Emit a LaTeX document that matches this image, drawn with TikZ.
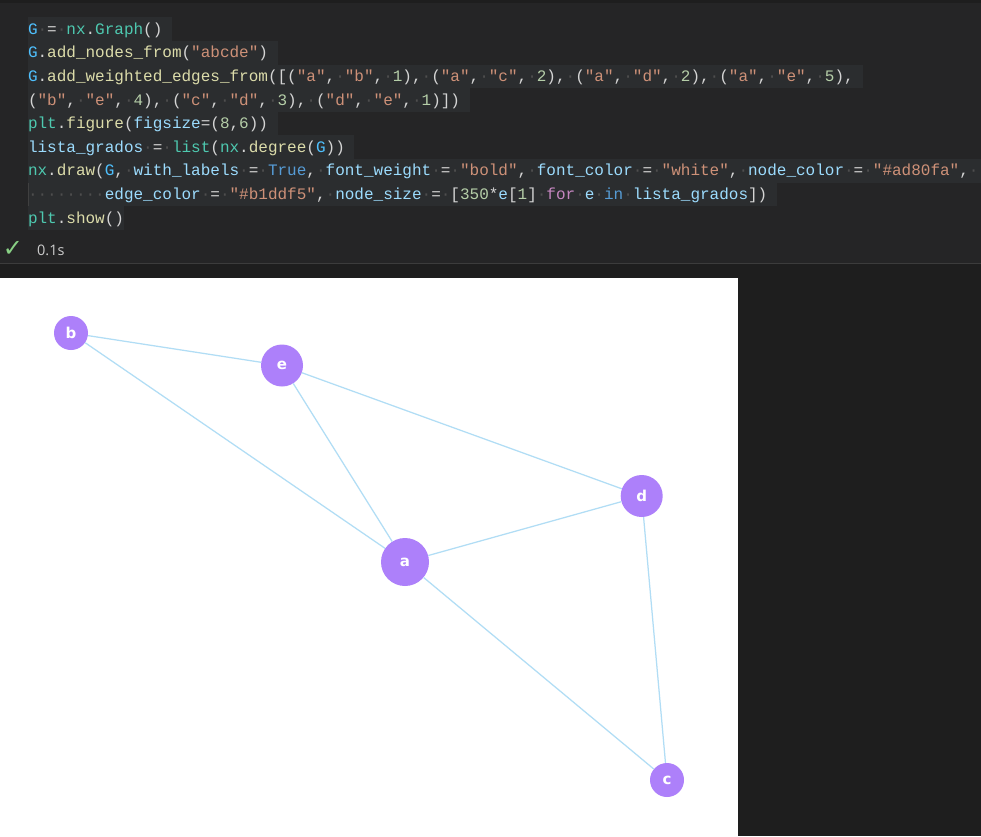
\documentclass[tikz,border=0pt]{standalone}
\usepackage{fontspec}
\newfontfamily\codefont{Liberation Mono}
\newfontfamily\labfont{DejaVu Sans}
\newfontfamily\uifont{Open Sans}
\newfontfamily\symfont{DejaVu Sans}
\definecolor{editorbg}{HTML}{1E1E1E}
\definecolor{cellbg}{HTML}{252526}
\definecolor{hlbox}{HTML}{2B2D2F}
\definecolor{sepline}{HTML}{3C3C3C}
\definecolor{cgconst}{HTML}{4FC1FF}
\definecolor{cteal}{HTML}{4EC9B0}
\definecolor{cyell}{HTML}{DCDCAA}
\definecolor{cvar}{HTML}{9CDCFE}
\definecolor{cstr}{HTML}{CE9178}
\definecolor{cnum}{HTML}{B5CEA8}
\definecolor{ckw}{HTML}{569CD6}
\definecolor{cctrl}{HTML}{C586C0}
\definecolor{cpunc}{HTML}{D4D4D4}
\definecolor{cdot}{HTML}{4E4E4E}
\definecolor{cguide}{HTML}{404040}
\definecolor{nodecol}{HTML}{AD80FA}
\definecolor{edgecol}{HTML}{B1DDF5}
\definecolor{okgreen}{HTML}{89D185}
\definecolor{uitext}{HTML}{CCCCCC}
\newcommand\cA[1]{\textcolor{cgconst}{#1}}
\newcommand\cT[1]{\textcolor{cteal}{#1}}
\newcommand\cY[1]{\textcolor{cyell}{#1}}
\newcommand\cV[1]{\textcolor{cvar}{#1}}
\newcommand\cS[1]{\textcolor{cstr}{#1}}
\newcommand\cN[1]{\textcolor{cnum}{#1}}
\newcommand\cK[1]{\textcolor{ckw}{#1}}
\newcommand\cC[1]{\textcolor{cctrl}{#1}}
\newcommand\sd{\textcolor{cdot}{·}}
\tikzset{
  codeline/.style={anchor=base west, inner sep=0pt, outer sep=0pt, text=cpunc,
    font=\codefont\fontsize{16}{16}\selectfont},
  vx/.style={circle, fill=nodecol, inner sep=0pt, text=white,
    font=\labfont\bfseries\fontsize{15}{15}\selectfont},
  gedge/.style={draw=edgecol, line width=1.25pt},
}
\begin{document}
\begin{tikzpicture}[x=1pt,y=-1pt]
\useasboundingbox (0,0) rectangle (981,836);
% backgrounds
\fill[editorbg] (0,0) rectangle (981,836);
\fill[cellbg] (0,3) rectangle (981,263);
\draw[sepline, line width=1.2pt] (0,263.5) -- (981,263.5);
\fill[white] (0,278.3) rectangle (738,836);
% line highlight boxes
\fill[hlbox] (28,17.3) rectangle (172,40.9);
\fill[hlbox] (28,40.9) rectangle (277.6,64.5);
\fill[hlbox] (28,64.5) rectangle (863.2,88.1);
\fill[hlbox] (28,88.1) rectangle (469.6,111.7);
\fill[hlbox] (28,111.7) rectangle (277.6,135.3);
\fill[hlbox] (28,135.3) rectangle (354.4,158.9);
\fill[hlbox] (28,158.9) rectangle (981,182.5);
\fill[hlbox] (28,182.5) rectangle (776.8,206.1);
\fill[hlbox] (28,206.1) rectangle (124,229.7);
\draw[cguide, line width=0.8pt] (28.5,182.5) -- (28.5,206.1);
% code
\node[codeline] (l1) at (28,34.3) {\cA{G}\sd=\sd\cT{nx}.\cT{Graph}()};
\node[codeline] (l2) at (28,57.9) {\cA{G}.\cY{add\_nodes\_from}(\cS{"abcde"})};
\node[codeline] (l3) at (28,81.5) {\cA{G}.\cY{add\_weighted\_edges\_from}([(\cS{"a"},\sd\cS{"b"},\sd\cN{1}),\sd(\cS{"a"},\sd\cS{"c"},\sd\cN{2}),\sd(\cS{"a"},\sd\cS{"d"},\sd\cN{2}),\sd(\cS{"a"},\sd\cS{"e"},\sd\cN{5}),};
\node[codeline] (l4) at (28,105.1) {(\cS{"b"},\sd\cS{"e"},\sd\cN{4}),\sd(\cS{"c"},\sd\cS{"d"},\sd\cN{3}),\sd(\cS{"d"},\sd\cS{"e"},\sd\cN{1})])};
\node[codeline] (l5) at (28,128.7) {\cT{plt}.\cY{figure}(\cV{figsize}=(\cN{8},\cN{6}))};
\node[codeline] (l6) at (28,152.3) {\cV{lista\_grados}\sd=\sd\cT{list}(\cT{nx}.\cY{degree}(\cA{G}))};
\node[codeline] (l7) at (28,175.9) {\cT{nx}.\cY{draw}(\cA{G},\sd\cV{with\_labels}\sd=\sd\cK{True},\sd\cV{font\_weight}\sd=\sd\cS{"bold"},\sd\cV{font\_color}\sd=\sd\cS{"white"},\sd\cV{node\_color}\sd=\sd\cS{"\#ad80fa"},\sd};
\node[codeline] (l8) at (28,199.5) {\sd\sd\sd\sd\sd\sd\sd\sd\cV{edge\_color}\sd=\sd\cS{"\#b1ddf5"},\sd\cV{node\_size}\sd=\sd[\cN{350}*\cV{e}[\cN{1}]\sd\cC{for}\sd\cV{e}\sd\cK{in}\sd\cV{lista\_grados}])};
\node[codeline] (l9) at (28,223.1) {\cT{plt}.\cY{show}()};
% status
\node[inner sep=0pt, text=okgreen, font=\symfont\fontsize{24}{24}\selectfont] (chk) at (13,249) {✓};
\node[anchor=base west, inner sep=0pt, text=uitext, font=\uifont\fontsize{14.5}{14.5}\selectfont] (time) at (37,255.5) {0.1s};
% graph
\node[vx, minimum size=48pt] (a) at (405,562) {a};
\node[vx, minimum size=34pt] (b) at (71,333) {b};
\node[vx, minimum size=42pt] (e) at (282,365.5) {e};
\node[vx, minimum size=42pt] (d) at (641.7,496) {d};
\node[vx, minimum size=34pt] (c) at (667,780) {c};
\draw[gedge] (a) -- (b);
\draw[gedge] (a) -- (c);
\draw[gedge] (a) -- (d);
\draw[gedge] (a) -- (e);
\draw[gedge] (b) -- (e);
\draw[gedge] (c) -- (d);
\draw[gedge] (d) -- (e);
\end{tikzpicture}
\end{document}
